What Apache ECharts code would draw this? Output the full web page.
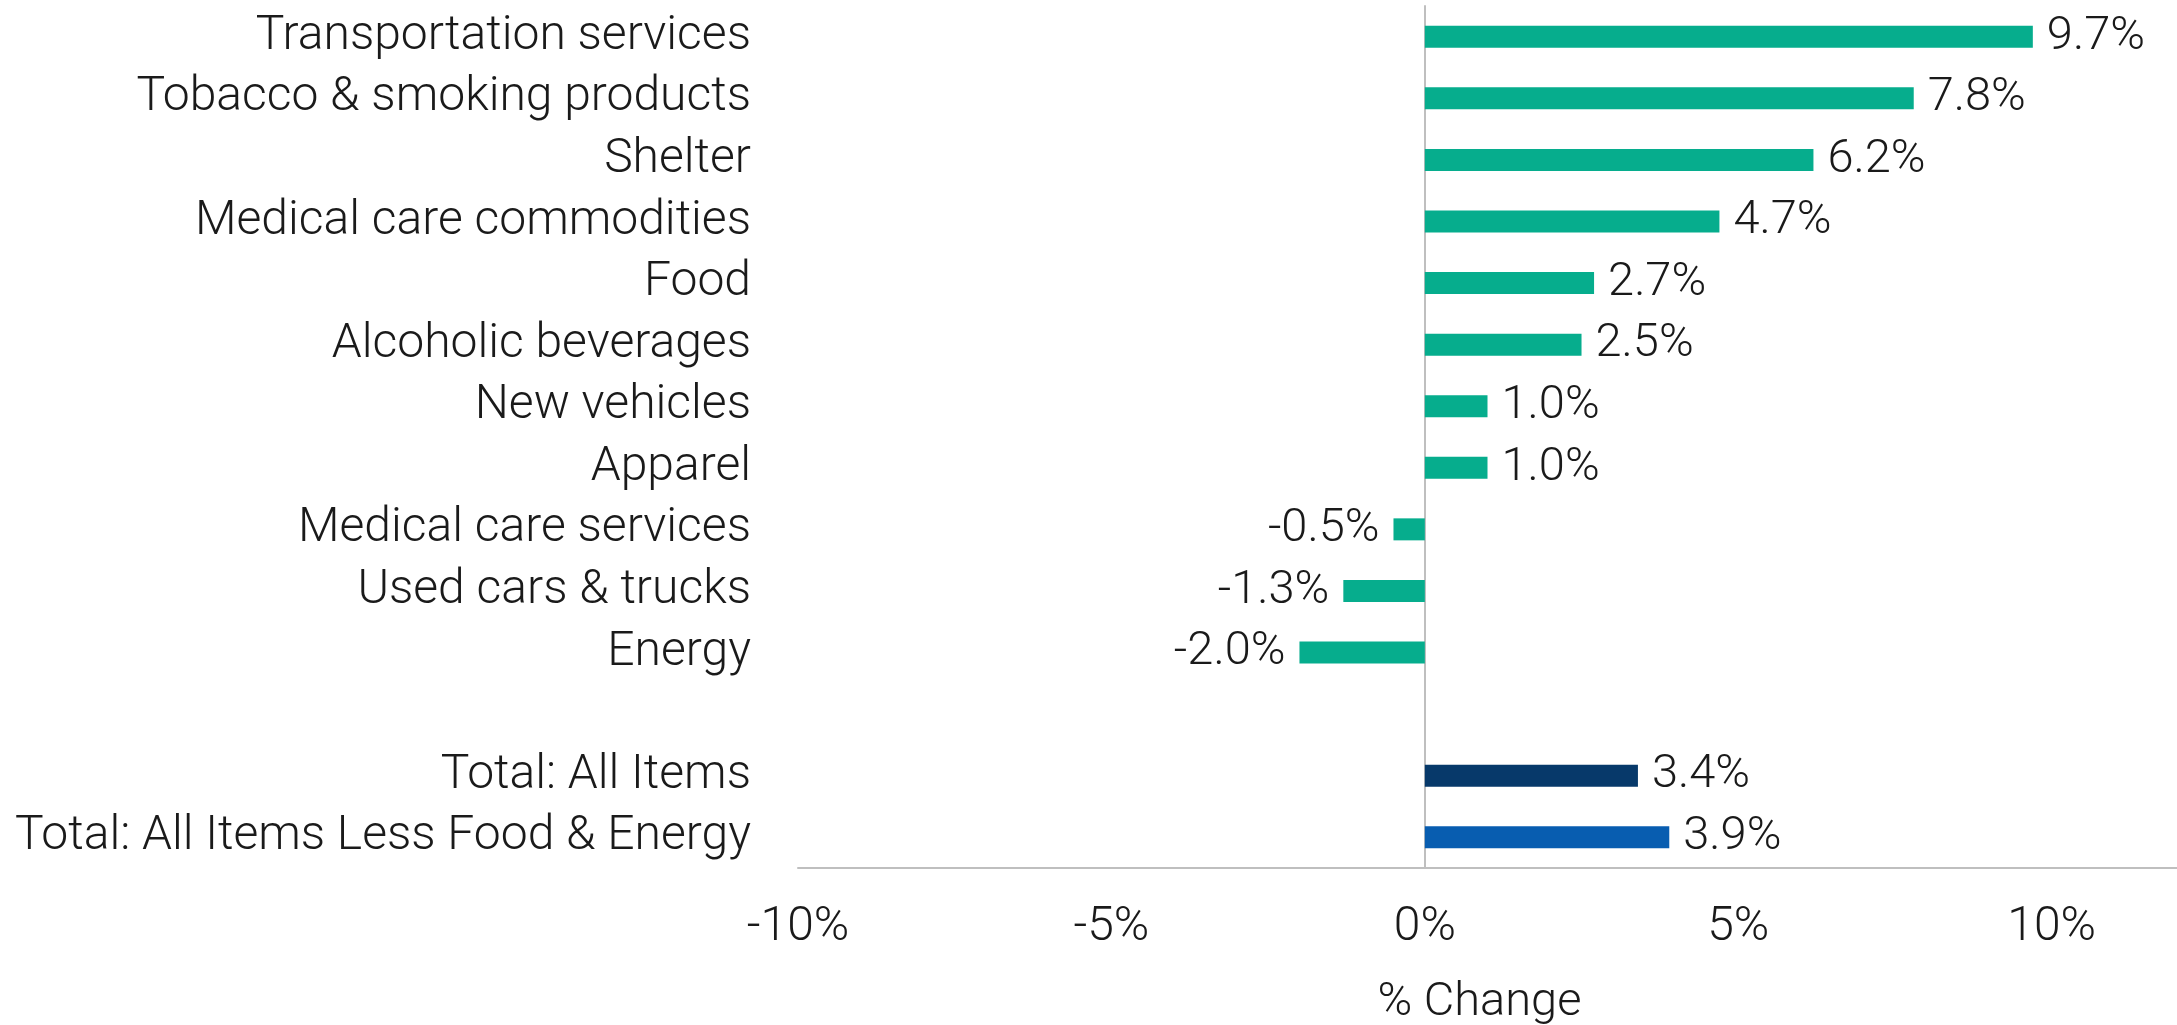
<!DOCTYPE html>
<html>
<head>
<meta charset="utf-8">
<script src="https://cdn.jsdelivr.net/npm/echarts@6/dist/echarts.min.js"></script>
<style>
html,body{margin:0;padding:0;background:#fff;}
#chart{width:2177px;height:1025px;}
</style>
</head>
<body>
<div id="chart"></div>
<script>
const categories = [
  'Transportation services',
  'Tobacco & smoking products',
  'Shelter',
  'Medical care commodities',
  'Food',
  'Alcoholic beverages',
  'New vehicles',
  'Apparel',
  'Medical care services',
  'Used cars & trucks',
  'Energy',
  '',
  'Total: All Items',
  'Total: All Items Less Food & Energy'
];
const values = [9.7, 7.8, 6.2, 4.7, 2.7, 2.5, 1.0, 1.0, -0.5, -1.3, -2.0, null, 3.4, 3.9];
const xTicks = [-10, -5, 0, 5, 10];

const FONT = 'Roboto';
const TEAL = '#06AD8D', NAVY = '#07396A', BLUE = '#085DB0';

function barColor(name) {
  if (name === 'Total: All Items') return NAVY;
  if (name === 'Total: All Items Less Food & Energy') return BLUE;
  return TEAL;
}

const seriesData = values.map((v, i) => v === null ? '-' : {
  value: v,
  itemStyle: { color: barColor(categories[i]) },
  label: { position: v < 0 ? 'left' : 'right' }
});

const chart = echarts.init(document.getElementById('chart'));
chart.setOption({
  animation: false,
  grid: { left: 798, right: 0, top: 6, bottom: 157, containLabel: false, outerBoundsMode: 'none' },
  xAxis: {
    type: 'value',
    min: -10, max: 12, interval: 5,
    name: '% Change',
    nameLocation: 'middle',
    nameGap: 112,
    nameTextStyle: { fontFamily: FONT, fontWeight: 300, fontSize: 47, color: '#1a1a1a', padding: [0, 16, 0, 0] },
    axisLine: { show: true, lineStyle: { color: '#BFBFBF', width: 2 } },
    axisTick: { show: false },
    splitLine: { show: false },
    axisLabel: {
      margin: 36,
      fontFamily: FONT, fontWeight: 300, fontSize: 48, color: '#1a1a1a',
      formatter: v => xTicks.indexOf(v) >= 0 ? v + '%' : '',
      showMaxLabel: false
    }
  },
  yAxis: {
    type: 'category',
    data: categories,
    inverse: true,
    axisLine: { show: true, onZero: true, lineStyle: { color: '#BFBFBF', width: 2 } },
    axisTick: { show: false },
    axisLabel: {
      interval: 0,
      margin: 47,
      fontFamily: FONT, fontWeight: 300, fontSize: 48, color: '#1a1a1a'
    }
  },
  series: [{
    type: 'bar',
    data: seriesData,
    barWidth: 22,
    label: {
      show: true,
      distance: 14,
      fontFamily: FONT, fontWeight: 300, fontSize: 47, color: '#1a1a1a',
      formatter: p => p.value.toFixed(1) + '%'
    }
  }]
});
</script>
</body>
</html>
